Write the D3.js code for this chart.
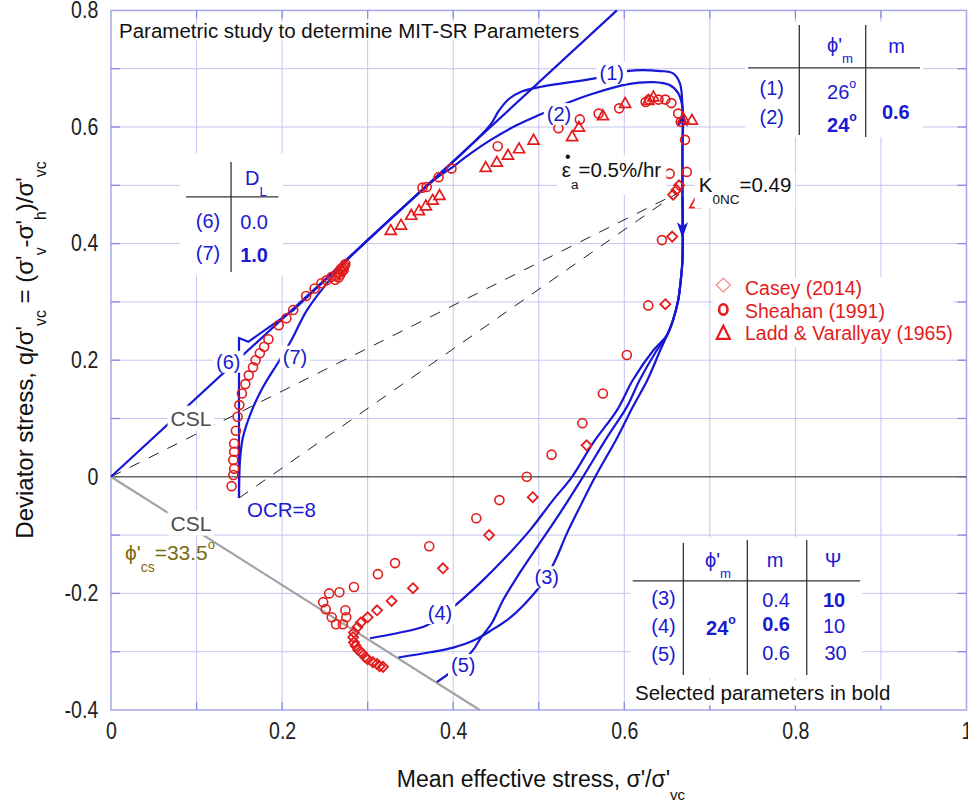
<!DOCTYPE html>
<html><head><meta charset="utf-8">
<script src="https://cdn.jsdelivr.net/npm/d3@7/dist/d3.min.js"></script>
<style>
html,body{margin:0;padding:0;background:#fff;}
text{font-family:"Liberation Sans",Arial,Helvetica,sans-serif;}
</style></head><body>
<svg id="chart" width="968" height="804"></svg>
<script>
// ---------------- data ----------------
const xTickValues = [0, 0.2, 0.4, 0.6, 0.8, 1];
const xTickLabels = ["0", "0.2", "0.4", "0.6", "0.8", "1"];
const yTickValues = [-0.4, -0.2, 0, 0.2, 0.4, 0.6, 0.8];
const yTickLabels = ["-0.4", "-0.2", "0", "0.2", "0.4", "0.6", "0.8"];
const gridValuesX = [0.1,0.2,0.3,0.4,0.5,0.6,0.7,0.8,0.9];
const gridValuesY = [-0.3,-0.2,-0.1,0.1,0.2,0.3,0.4,0.5,0.6,0.7];

const cslCompression = [[0,0],[0.5913,0.8]];
const cslExtension = [[0,0],[0.431,-0.4]];
const k0Line = [[0,0],[0.66,0.485]];
const unloadLine = [[0.1496,-0.0365],[0.66,0.485]];

const curve1 = [[0.668,0.48],[0.668,0.56],[0.668,0.634],[0.665,0.675],[0.657,0.692],[0.642,0.696],[0.603,0.696],[0.564,0.683],[0.533,0.676],[0.503,0.669],[0.480,0.661],[0.465,0.648],[0.453,0.627],[0.444,0.605],[0.42,0.568],[0.38,0.514],[0.30,0.406]];
const curve2 = [[0.668,0.48],[0.668,0.56],[0.668,0.634],[0.663,0.658],[0.653,0.672],[0.634,0.677],[0.603,0.673],[0.563,0.657],[0.540,0.645],[0.501,0.621],[0.470,0.600],[0.443,0.577],[0.416,0.550],[0.398,0.530],[0.38,0.512],[0.30,0.406]];
const curve3 = [[0.668,0.48],[0.668,0.372],[0.666,0.337],[0.663,0.303],[0.657,0.269],[0.650,0.243],[0.642,0.217],[0.627,0.166],[0.610,0.120],[0.592,0.068],[0.566,0.0],[0.548,-0.052],[0.532,-0.100],[0.521,-0.138],[0.509,-0.172],[0.490,-0.208],[0.468,-0.240],[0.445,-0.263],[0.425,-0.280],[0.400,-0.293],[0.373,-0.301],[0.336,-0.310]];
const curve4 = [[0.668,0.48],[0.668,0.372],[0.666,0.337],[0.663,0.303],[0.657,0.269],[0.650,0.243],[0.634,0.217],[0.610,0.166],[0.5915,0.1144],[0.5634,0.0578],[0.5389,0.0],[0.5167,-0.040],[0.4898,-0.0914],[0.4582,-0.1429],[0.4313,-0.1824],[0.3998,-0.2236],[0.3694,-0.2545],[0.3343,-0.2683],[0.3027,-0.2769]];
const curve5 = [[0.668,0.48],[0.668,0.372],[0.666,0.337],[0.663,0.303],[0.657,0.269],[0.650,0.243],[0.638,0.217],[0.618,0.166],[0.603,0.120],[0.580,0.068],[0.5517,0.0],[0.5248,-0.0623],[0.498,-0.1206],[0.4746,-0.1721],[0.4582,-0.2116],[0.4455,-0.250],[0.4325,-0.276],[0.4231,-0.2974],[0.405,-0.326],[0.381,-0.352]];
const curve6 = [[0.1496,-0.0365],[0.1496,0.238],[0.1605,0.2316],[0.2131,0.286],[0.30,0.406]];
const curve7 = [[0.1496,-0.0365],[0.1508,0.0286],[0.1543,0.0681],[0.1648,0.1144],[0.1777,0.1539],[0.197,0.200],[0.210,0.232],[0.2291,0.2859],[0.2525,0.3323],[0.2759,0.3717],[0.30,0.406]];

const sheahan = [
 [0.141,-0.016],[0.143,0.003],[0.144,0.014],[0.143,0.029],[0.144,0.043],[0.144,0.057],[0.146,0.079],[0.148,0.103],[0.150,0.123],[0.153,0.143],[0.157,0.159],[0.161,0.174],[0.166,0.188],[0.169,0.200],[0.174,0.212],[0.179,0.223],[0.184,0.236],[0.196,0.260],[0.205,0.272],[0.213,0.286],[0.228,0.310],[0.238,0.323],[0.246,0.332],[0.252,0.337],[0.258,0.343],
 [0.262,0.338],[0.263,0.345],[0.265,0.350],[0.266,0.342],[0.268,0.355],[0.268,0.347],[0.270,0.358],[0.270,0.352],[0.272,0.360],[0.272,0.355],[0.273,0.362],[0.274,0.365],
 [0.364,0.496],[0.369,0.497],[0.383,0.514],[0.398,0.529],[0.452,0.567],[0.523,0.598],[0.548,0.613],[0.570,0.623],[0.594,0.632],[0.625,0.643],[0.629,0.647],[0.640,0.647],[0.648,0.647],[0.655,0.641],[0.663,0.623],[0.666,0.609],[0.671,0.578],[0.673,0.523],[0.653,0.520],
 [0.644,0.406],[0.628,0.294],[0.603,0.209],[0.575,0.143],[0.551,0.092],[0.515,0.038],[0.486,0.000],[0.454,-0.040],[0.427,-0.071],[0.372,-0.119],[0.332,-0.148],[0.312,-0.167],[0.284,-0.189],[0.267,-0.198],[0.255,-0.200],[0.248,-0.215],[0.251,-0.227],[0.258,-0.241],[0.263,-0.253],[0.271,-0.253],[0.275,-0.241],[0.274,-0.229]
];
const casey = [
 [0.657,0.484],[0.661,0.492],[0.664,0.500],[0.656,0.412],[0.648,0.296],[0.556,0.054],[0.493,-0.035],[0.442,-0.100],[0.388,-0.157],[0.353,-0.191],[0.328,-0.213],[0.311,-0.229],[0.300,-0.241],[0.292,-0.250],[0.288,-0.258],[0.284,-0.267],[0.283,-0.275],[0.284,-0.284],[0.286,-0.290],[0.289,-0.297],[0.293,-0.302],[0.297,-0.309],[0.300,-0.313],[0.306,-0.318],[0.311,-0.321],[0.314,-0.325],[0.318,-0.326]
];
const laddVarallyay = [
 [0.327,0.423],[0.339,0.432],[0.351,0.449],[0.360,0.457],[0.368,0.465],[0.376,0.475],[0.384,0.483],[0.438,0.531],[0.451,0.540],[0.464,0.552],[0.477,0.563],[0.494,0.578],[0.539,0.584],[0.547,0.600],[0.575,0.620],[0.601,0.641],[0.628,0.646],[0.634,0.652],[0.669,0.615],[0.679,0.612],[0.683,0.469]
];

const legendNames = ["Casey (2014)", "Sheahan (1991)", "Ladd & Varallyay (1965)"];
const curveLabels = [
 {t:"(1)", p:[0.5853,0.6933]},{t:"(2)", p:[0.5237,0.6221]},{t:"(3)", p:[0.5093,-0.1722]},
 {t:"(4)", p:[0.3846,-0.2338]},{t:"(5)", p:[0.4118,-0.3229]},{t:"(6)", p:[0.1371,0.1973]},{t:"(7)", p:[0.2151,0.2058]}
];
const arrowHeads = [{p:[0.668,0.628], dir:"up"},{p:[0.668,0.409], dir:"down"}];

// ---------------- setup ----------------
const BLUE="#1616d6", RED="#e31b1b", TBLUE="#1a1ad0";
const PHI="\u03D5";
const svg=d3.select("#chart");
svg.append("rect").attr("width",968).attr("height",804).attr("fill","#fff");
const x=d3.scaleLinear().domain([0,1]).range([111,966.5]);
const y=d3.scaleLinear().domain([-0.4,0.8]).range([710,10.4]);

function rich(sel, parts, size){
  let cur=0;
  parts.forEach(p=>{
    const s = p.sub ? size*0.55 : p.sup ? -size*0.55 : 0;
    const ts = sel.append("tspan").text(p.t).attr("dy", s-cur)
      .attr("font-size", (p.sub||p.sup) ? size*(p.sup?0.62:0.66) : size);
    if(p.bold) ts.attr("font-weight","bold");
    cur=s;
  });
  return sel;
}
function boxed(g, sel, pad){
  const b=sel.node().getBBox();
  g.insert("rect", function(){return sel.node();})
    .attr("x",b.x-pad[0]).attr("y",b.y-pad[1]).attr("width",b.width+2*pad[0]).attr("height",b.height+2*pad[1]).attr("fill","#fff");
}

// ---------------- grid & frame ----------------
const grid=svg.append("g");
grid.selectAll("line.gx").data(gridValuesX).join("line").attr("class","gx")
  .attr("x1",d=>x(d)).attr("x2",d=>x(d)).attr("y1",y(-0.4)).attr("y2",y(0.8))
  .attr("stroke","#c4c4f2").attr("stroke-width",1);
grid.selectAll("line.gy").data(gridValuesY).join("line").attr("class","gy")
  .attr("y1",d=>y(d)).attr("y2",d=>y(d)).attr("x1",x(0)).attr("x2",x(1))
  .attr("stroke","#c4c4f2").attr("stroke-width",1);
svg.append("rect").attr("x",x(0)).attr("y",y(0.8)).attr("width",x(1)-x(0)).attr("height",y(-0.4)-y(0.8))
  .attr("fill","none").attr("stroke","#a6a6ea").attr("stroke-width",1.5);
const tk=svg.append("g").attr("stroke","#8a8ae0").attr("stroke-width",1.3);
gridValuesX.forEach(v=>{
  tk.append("line").attr("x1",x(v)).attr("x2",x(v)).attr("y1",y(-0.4)).attr("y2",y(-0.4)-8);
  tk.append("line").attr("x1",x(v)).attr("x2",x(v)).attr("y1",y(0.8)).attr("y2",y(0.8)+8);
});
gridValuesY.concat([0]).forEach(v=>{
  tk.append("line").attr("y1",y(v)).attr("y2",y(v)).attr("x1",x(0)).attr("x2",x(0)+9);
  tk.append("line").attr("y1",y(v)).attr("y2",y(v)).attr("x1",x(1)).attr("x2",x(1)-9);
});

// zero line
svg.append("line").attr("x1",x(0)).attr("x2",x(1)).attr("y1",y(0)).attr("y2",y(0)).attr("stroke","#666").attr("stroke-width",1.6);

// ---------------- lines ----------------
const lin=d3.line().x(d=>x(d[0])).y(d=>y(d[1]));
const smooth=d3.line().x(d=>x(d[0])).y(d=>y(d[1])).curve(d3.curveCatmullRom.alpha(0.5));
const lines=svg.append("g").attr("fill","none");
[k0Line, unloadLine].forEach(l=>lines.append("path").attr("d",lin(l)).attr("stroke","#222").attr("stroke-width",1).attr("stroke-dasharray","11,10"));
lines.append("path").attr("d",lin(cslExtension)).attr("stroke","#a3a3a3").attr("stroke-width",2.2);
lines.append("path").attr("d",lin(cslCompression)).attr("stroke",BLUE).attr("stroke-width",2.2);
[curve1,curve2,curve3,curve4,curve5,curve7].forEach(c=>lines.append("path").attr("d",smooth(c)).attr("stroke",BLUE).attr("stroke-width",2.2));
lines.append("path").attr("d",lin(curve6)).attr("stroke",BLUE).attr("stroke-width",2.2);

// arrows
svg.append("g").selectAll("path").data(arrowHeads).join("path")
  .attr("d","M0,0 L-5.5,16 L0,12 L5.5,16 Z").attr("fill",BLUE)
  .attr("transform",d=>`translate(${x(d.p[0])},${y(d.p[1])}) rotate(${d.dir==="up"?0:180})`);

// ---------------- markers ----------------
const mk=svg.append("g").attr("fill","none").attr("stroke",RED).attr("stroke-width",1.6);
mk.selectAll("circle").data(sheahan).join("circle").attr("cx",d=>x(d[0])).attr("cy",d=>y(d[1])).attr("r",4.5);
mk.selectAll("path.dm").data(casey).join("path").attr("class","dm").attr("d","M0,-5 L5,0 L0,5 L-5,0 Z")
  .attr("transform",d=>`translate(${x(d[0])},${y(d[1])})`).attr("stroke-width",1.8);
mk.selectAll("path.tr").data(laddVarallyay).join("path").attr("class","tr").attr("d","M0,-5.5 L5.5,4.2 L-5.5,4.2 Z")
  .attr("transform",d=>`translate(${x(d[0])},${y(d[1])})`).attr("stroke-width",1.7);

// ---------------- annotations ----------------
const ann=svg.append("g");
curveLabels.forEach(c=>{
  const t=ann.append("text").attr("x",x(c.p[0])).attr("y",y(c.p[1])).attr("dy","0.35em")
    .attr("text-anchor","middle").attr("font-size",20).attr("fill",TBLUE).text(c.t);
  boxed(ann,t,[3,0]);
});
{
  const t=ann.append("text").attr("x",x(0.0935)).attr("y",y(0.1007)).attr("dy","0.36em").attr("text-anchor","middle")
    .attr("font-size",21).attr("fill","#4d4d4d").text("CSL");
  boxed(ann,t,[3,1]);
  const t2=ann.append("text").attr("x",x(0.0935)).attr("y",y(-0.0794)).attr("dy","0.36em").attr("text-anchor","middle")
    .attr("font-size",21).attr("fill","#4d4d4d").text("CSL");
  boxed(ann,t2,[3,1]);
  ann.append("text").attr("x",x(0.159)).attr("y",y(-0.057)).attr("dy","0.36em")
    .attr("font-size",20.5).attr("fill",TBLUE).text("OCR=8");
  const t4=ann.append("text").attr("x",x(0.0164)).attr("y",y(-0.1429)).attr("fill","#7d6a10");
  rich(t4,[{t:PHI+"'"},{t:"cs",sub:true},{t:"=33.5"},{t:"o",sup:true}],21);
  ann.append("text").attr("x",x(0.0094)).attr("y",y(0.7525)).attr("font-size",20.5).attr("fill","#111")
    .attr("stroke","#fff").attr("stroke-width",5).attr("paint-order","stroke").attr("stroke-linejoin","round")
    .text("Parametric study to determine MIT-SR Parameters");
  const t6=ann.append("text").attr("x",x(0.527)).attr("y",y(0.5137)).attr("fill","#111");
  rich(t6,[{t:"ε"},{t:"a",sub:true},{t:"=0.5%/hr"}],20.5);
  boxed(ann,t6,[5,3]);
  ann.append("text").attr("x",x(0.527)+6).attr("y",y(0.5137)-15).attr("text-anchor","middle").attr("font-size",16).attr("fill","#111").text("•");
  const t7=ann.append("text").attr("x",x(0.687)).attr("y",y(0.488)).attr("fill","#111");
  rich(t7,[{t:"K"},{t:"0NC",sub:true},{t:"=0.49"}],20.5);
  boxed(ann,t7,[4,2]);
}

// ---------------- tables ----------------
function tableText(g, dx, dy, parts, size, anchor, color){
  const t=g.append("text").attr("x",dx).attr("y",dy).attr("fill",color||TBLUE).attr("text-anchor",anchor||"start");
  rich(t, parts, size);
  return t;
}
function vline(g,dx,y1,y2){g.append("line").attr("x1",dx).attr("x2",dx).attr("y1",y1).attr("y2",y2).attr("stroke","#333").attr("stroke-width",1.3);}
function hline(g,dy,x1,x2){g.append("line").attr("y1",dy).attr("y2",dy).attr("x1",x1).attr("x2",x2).attr("stroke","#333").attr("stroke-width",1.3);}

// table 1 (phi'_m, m)
{
  const g=svg.append("g").attr("transform",`translate(${x(0.7446)},${y(0.7748)})`);
  g.append("rect").attr("x",-3).attr("y",-3).attr("width",178).attr("height",115).attr("fill","#fff");
  vline(g,51.3,0,110); vline(g,117.7,0,112); hline(g,42.7,0,172);
  tableText(g,79,27,[{t:PHI+"'"},{t:"m",sub:true}],20);
  tableText(g,148.7,28,[{t:"m"}],20,"middle");
  tableText(g,23.7,69.6,[{t:"(1)"}],20,"middle");
  tableText(g,79,74,[{t:"26"},{t:"o",sup:true}],20);
  tableText(g,23.7,99.3,[{t:"(2)"}],20,"middle");
  tableText(g,79,106.7,[{t:"24",bold:true},{t:"o",sup:true,bold:true}],20);
  tableText(g,147.8,94.3,[{t:"0.6",bold:true}],20,"middle");
}
// table 2 (D_L)
{
  const g=svg.append("g").attr("transform",`translate(${x(0.0807)},${y(0.555)})`);
  g.append("rect").attr("x",0).attr("y",0).attr("width",103).attr("height",122).attr("fill","#fff");
  vline(g,51,8.7,118.7); hline(g,43.7,6,98.3);
  tableText(g,65,32,[{t:"D"},{t:"L",sub:true}],20);
  tableText(g,28,75,[{t:"(6)"}],20,"middle");
  tableText(g,74,75.3,[{t:"0.0"}],20,"middle");
  tableText(g,28,107,[{t:"(7)"}],20,"middle");
  tableText(g,74,109,[{t:"1.0",bold:true}],20,"middle");
}
// table 3 (phi'_m, m, Psi)
{
  const g=svg.append("g").attr("transform",`translate(${x(0.6067)},${y(-0.1034)})`);
  g.append("rect").attr("x",0).attr("y",0).attr("width",232).attr("height",141).attr("fill","#fff");
  vline(g,53.3,6,138); vline(g,117.3,3,138); vline(g,176.7,3,138); hline(g,43.7,2.7,230);
  tableText(g,75,29.5,[{t:PHI+"'"},{t:"m",sub:true}],20);
  tableText(g,145,30,[{t:"m"}],20,"middle");
  tableText(g,203,30,[{t:"Ψ"}],20,"middle");
  tableText(g,33.5,67.6,[{t:"(3)"}],20,"middle");
  tableText(g,33.5,96,[{t:"(4)"}],20,"middle");
  tableText(g,33.5,123.6,[{t:"(5)"}],20,"middle");
  tableText(g,76,98,[{t:"24",bold:true},{t:"o",sup:true,bold:true}],20);
  tableText(g,146,69.7,[{t:"0.4"}],20,"middle");
  tableText(g,146,93.7,[{t:"0.6",bold:true}],20,"middle");
  tableText(g,146,123,[{t:"0.6"}],20,"middle");
  tableText(g,204,70,[{t:"10",bold:true}],20,"middle");
  tableText(g,204,95.7,[{t:"10"}],20,"middle");
  tableText(g,205.5,123,[{t:"30"}],20,"middle");
  const st=tableText(g,5,163.3,[{t:"Selected parameters in bold"}],20.5,"start","#111");
  boxed(g,st,[3,1]);
}
// legend
{
  const g=svg.append("g").attr("transform",`translate(${x(0.7037)},${y(0.3425)})`);
  g.append("rect").attr("x",0).attr("y",0).attr("width",240).attr("height",70).attr("fill","#fff");
  g.append("path").attr("d","M0,-7 L7,0 L0,7 L-7,0 Z").attr("transform","translate(10.3,8)").attr("fill","none").attr("stroke","#f08c8c").attr("stroke-width",1.3);
  g.append("ellipse").attr("cx",10.3).attr("cy",32.3).attr("rx",4.2).attr("ry",5.2).attr("fill","none").attr("stroke",RED).attr("stroke-width",2.6);
  g.append("path").attr("d","M0,-7 L6.5,6 L-6.5,6 Z").attr("transform","translate(10.3,55.7)").attr("fill","none").attr("stroke",RED).attr("stroke-width",2.2);
  legendNames.forEach((n,i)=>g.append("text").attr("x",32).attr("y",18+i*22.5).attr("font-size",19.5).attr("fill",RED).text(n));
}

// ---------------- axes ----------------
const ax=d3.axisBottom(x).tickValues(xTickValues).tickFormat((d,i)=>xTickLabels[i]).tickSize(0).tickPadding(13);
const gx=svg.append("g").attr("transform",`translate(0,${y(-0.4)})`).call(ax);
gx.select(".domain").remove();
gx.selectAll("text").attr("font-size",23).attr("fill","#222").attr("font-family",null).attr("transform","scale(0.85,1)");
const ay=d3.axisLeft(y).tickValues(yTickValues).tickFormat((d,i)=>yTickLabels[i]).tickSize(0).tickPadding(15);
const gy=svg.append("g").attr("transform",`translate(${x(0)},0)`).call(ay);
gy.select(".domain").remove();
gy.selectAll("text").attr("font-size",23).attr("fill","#222").attr("font-family",null).attr("transform","scale(0.85,1)");

const xt=svg.append("text").attr("x",541).attr("y",787).attr("text-anchor","middle").attr("fill","#111");
rich(xt,[{t:"Mean effective stress, σ'/σ'"},{t:"vc",sub:true}],23);
const yt=svg.append("text").attr("transform","translate(33,350) rotate(-90)").attr("text-anchor","middle").attr("fill","#111");
rich(yt,[{t:"Deviator stress, q/σ'"},{t:"vc",sub:true},{t:" = (σ'"},{t:"v",sub:true},{t:"-σ'"},{t:"h",sub:true},{t:")/σ'"},{t:"vc",sub:true}],24);
</script>
</body></html>
